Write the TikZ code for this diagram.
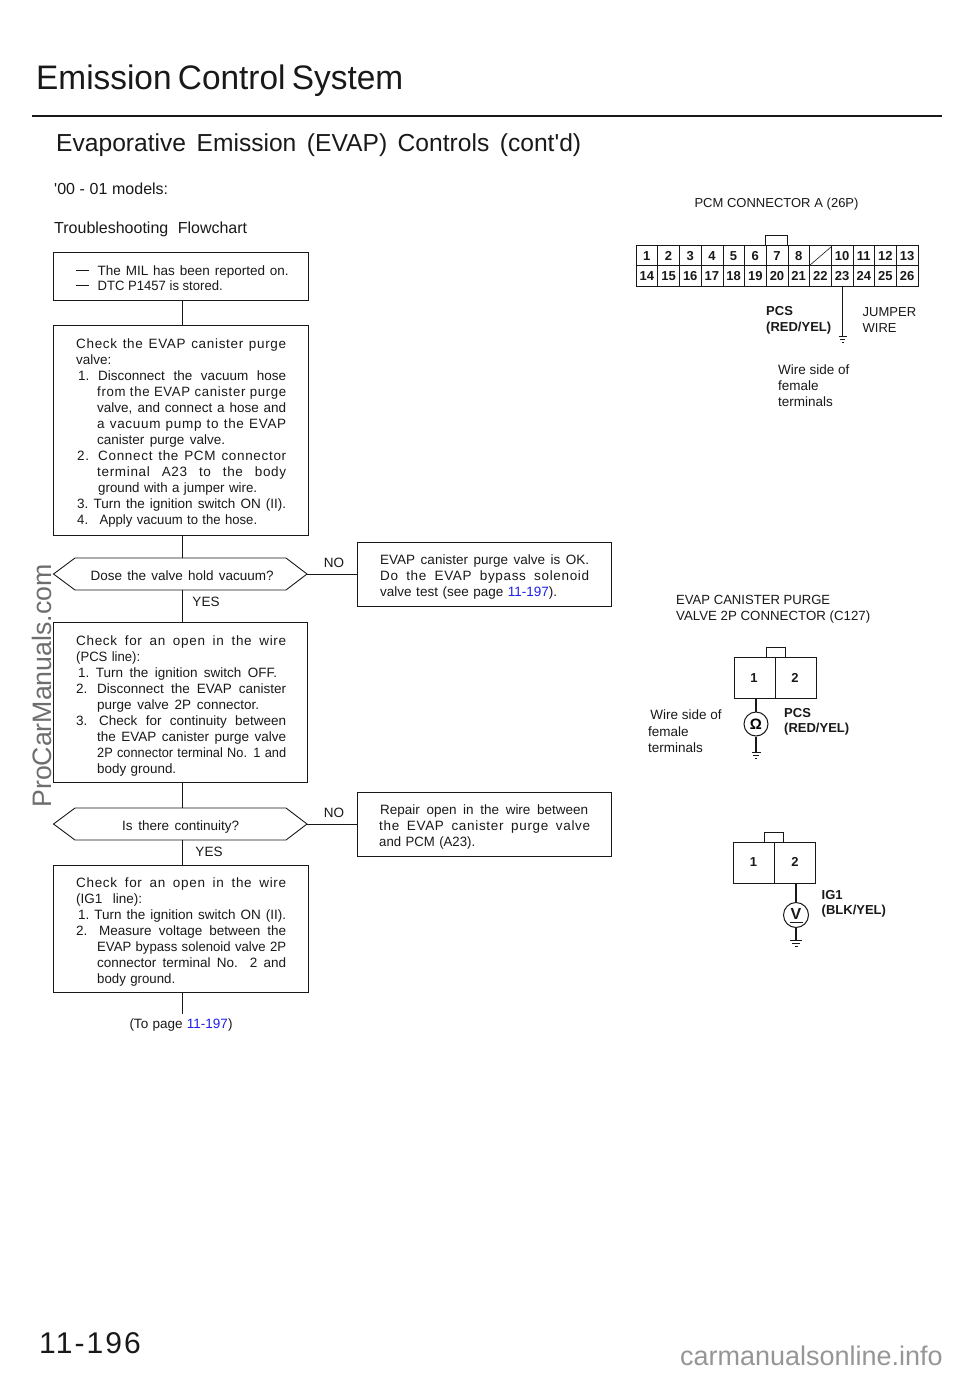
\documentclass[tikz,border=0pt]{standalone}
\usepackage{fontspec}
\usepackage{graphicx}
\setmainfont{Liberation Sans}
\usetikzlibrary{shapes.geometric,calc}
\definecolor{linkblue}{RGB}{30,30,235}
\definecolor{wm}{RGB}{110,110,110}
\definecolor{wmb}{RGB}{150,150,150}
\definecolor{ink}{RGB}{25,25,25}
\newlength\wtmp
\newlength\wgoal
% fit text to a width: stretch word gaps, or narrow the line if it is too long
\newcommand{\fit}[2]{\setlength\wgoal{#1}\settowidth\wtmp{#2}%
  \ifdim\wtmp>\wgoal\resizebox{\wgoal}{\height}{#2}%
  \else\makebox[\wgoal][s]{\spaceskip=0pt\xspaceskip=0pt #2}\fi}
% line: start offset, end offset, text
\newcommand{\Ln}[3]{\hspace*{#1pt}\fit{\dimexpr#2pt-#1pt\relax}{#3}\\}
\newcommand{\Ls}[3]{\hspace*{#1pt}\fit{\dimexpr#2pt-#1pt\relax}{\addfontfeatures{LetterSpace=5}#3}\\}
\newcommand{\nm}[2]{\makebox[#1pt][l]{#2.}}
\newcommand{\lnk}[1]{\textcolor{linkblue}{#1}}
\tikzset{
  flowbox/.style={draw=ink,line width=.9pt,rectangle,inner sep=0pt,outer sep=0pt,anchor=north west,text=ink},
  bodytext/.style={font=\fontsize{13.5}{16}\selectfont,align=left,text width=240pt,text=ink,inner sep=0pt,anchor=north west},
  decision/.style={draw=ink,line width=.9pt},
  conn/.style={draw=ink,line width=.9pt},
  lab/.style={font=\fontsize{13.5}{16}\selectfont,text=ink,inner sep=0pt},
  plabel/.style={font=\fontsize{13}{16}\selectfont\bfseries,text=ink,inner sep=0pt,align=left,anchor=west},
  pin/.style={font=\fontsize{13}{13}\selectfont\bfseries,text=ink,inner sep=0pt},
  wire/.style={draw=ink,line width=1.1pt},
  conbox/.style={draw=ink,line width=1pt},
  heading/.style={anchor=base west,inner sep=0pt,text=ink},
}
\newcommand{\gnd}[2]{%
  \draw[wire,line width=.8pt] ($(#1)+(-#2,0)$) -- ($(#1)+(#2,0)$);
  \draw[wire,line width=.8pt] ($(#1)+({-#2*.62},3)$) -- ($(#1)+({#2*.62},3)$);
  \draw[wire,line width=.8pt] ($(#1)+({-#2*.25},6)$) -- ($(#1)+({#2*.25},6)$);}
\begin{document}
\begin{tikzpicture}[x=1pt,y=-1pt]
\useasboundingbox (0,0) rectangle (960,1374);
\fill[white] (0,0) rectangle (960,1374);

% headings
\node[heading,font=\fontsize{34}{34}\selectfont] (title) at (36,89) {\resizebox{367pt}{\height}{\spaceskip=.19em Emission Control System}};
\coordinate (ruleL) at (32,116); \coordinate (ruleR) at (942,116);
\draw[ink,line width=2pt] (ruleL) -- (ruleR);
\node[heading,font=\fontsize{24.6}{25}\selectfont] (subtitle) at (56,151) {\fit{525pt}{Evaporative Emission (EVAP) Controls (cont\textquotesingle d)}};
\node[heading,font=\fontsize{16}{16}\selectfont] (models) at (54,194) {\fit{114pt}{\textquotesingle 00 - 01 models:}};
\node[heading,font=\fontsize{16}{16}\selectfont] (tsf) at (54,233) {\fit{193pt}{Troubleshooting Flowchart}};

% flow
\node[flowbox,minimum width=255pt,minimum height=48pt] (b1) at (53.5,252) {};
\draw[ink,line width=1.8pt] (76,270.5) coordinate (d1a) -- (89,270.5) coordinate (d1b);
\draw[ink,line width=1.8pt] (76,285.5) coordinate (d2a) -- (89,285.5) coordinate (d2b);
\node[lab,anchor=base west] (b1a) at (97.5,275) {\fit{191pt}{The MIL has been reported on.}};
\node[lab,anchor=base west] (b1b) at (97.5,290) {\fit{125pt}{DTC P1457 is stored.}};

\node[flowbox,minimum width=255pt,minimum height=210pt] (b2) at (53.5,325) {};
\node[bodytext] (b2t) at (76,339) {%
\Ls{0}{210}{Check the EVAP canister purge}
\Ln{0}{40}{valve:}
\Ln{2}{210}{\nm{20}{1}Disconnect the vacuum hose}
\Ls{21}{210}{from the EVAP canister purge}
\Ln{21}{210}{valve, and connect a hose and}
\Ls{21}{210}{a vacuum pump to the EVAP}
\Ln{21}{149}{canister purge valve.}
\Ls{1}{210}{\nm{21}{2}Connect the PCM connector}
\Ls{21}{210}{terminal A23 to the body}
\Ln{22}{181}{ground with a jumper wire.}
\Ln{1}{210}{3.\ Turn the ignition switch ON (II).}
\Ln{1}{181}{\nm{23}{4}Apply vacuum to the hose.}};

\draw[decision] (53.5,574) coordinate (q1L) -- (75,558) -- (286,558) -- (307,574) coordinate (q1R) -- (286,590) -- (75,590) -- cycle;
\node[lab,anchor=base west] (q1) at (90.5,580) {\fit{183pt}{Dose the valve hold vacuum?}};
\node[lab] (no1) at (334,563) {NO};
\node[lab] (yes1) at (206,602) {YES};

\node[flowbox,minimum width=254pt,minimum height=64pt] (b3) at (357.5,542) {};
\node[bodytext] (b3t) at (380,555) {%
\Ln{0}{209}{EVAP canister purge valve is OK.}
\Ls{0}{209}{Do the EVAP bypass solenoid}
\Ln{0}{177}{valve test (see page \lnk{11-197}).}};

\node[flowbox,minimum width=254pt,minimum height=160pt] (b4) at (53.5,622) {};
\node[bodytext] (b4t) at (76,636) {%
\Ls{0}{210}{Check for an open in the wire}
\Ln{0}{64}{(PCS line):}
\Ln{2}{201}{1.\ Turn the ignition switch OFF.}
\Ln{0}{210}{\nm{21}{2}Disconnect the EVAP canister}
\Ln{21}{183}{purge valve 2P connector.}
\Ln{0}{210}{\nm{23}{3}Check for continuity between}
\Ln{21}{210}{the EVAP canister purge valve}
\Ln{21}{210}{2P connector terminal No. 1 and}
\Ln{21}{100}{body ground.}};

\draw[decision] (53.5,824) coordinate (q2L) -- (75,808) -- (286,808) -- (307,824) coordinate (q2R) -- (286,840) -- (75,840) -- cycle;
\node[lab,anchor=base west] (q2) at (122,830) {\fit{117pt}{Is there continuity?}};
\node[lab] (no2) at (334,813) {NO};
\node[lab] (yes2) at (209,852) {YES};

\node[flowbox,minimum width=254pt,minimum height=64pt] (b5) at (357,792) {};
\node[bodytext] (b5t) at (379,805) {%
\Ln{1}{209}{Repair open in the wire between}
\Ls{0}{211}{the EVAP canister purge valve}
\Ln{0}{96}{and PCM (A23).}};

\node[flowbox,minimum width=255pt,minimum height=127pt] (b6) at (53.5,865) {};
\node[bodytext] (b6t) at (76,878) {%
\Ls{0}{210}{Check for an open in the wire}
\Ln{0}{66}{(IG1 line):}
\Ln{2}{210}{1.\ Turn the ignition switch ON (II).}
\Ln{0}{210}{\nm{23}{2}Measure voltage between the}
\Ln{21}{210}{EVAP bypass solenoid valve 2P}
\Ln{21}{210}{connector terminal No. 2 and}
\Ln{21}{99}{body ground.}};

\coordinate (endc) at (182,1014);
\node[lab,anchor=center] (topage) at (181,1025) {\fit{103pt}{(To page \lnk{11-197})}};

\draw[conn] (b1.south -| endc) -- (b2.north -| endc);
\draw[conn] (b2.south -| endc) -- (182,558);
\draw[conn] (182,590) -- (b4.north -| endc);
\draw[conn] (b4.south -| endc) -- (182,808);
\draw[conn] (182,840) -- (b6.north -| endc);
\draw[conn] (b6.south -| endc) -- (endc);
\draw[conn] (q1R) -- (b3.west |- q1R);
\draw[conn] (q2R) -- (b5.west |- q2R);

% PCM connector
\node[lab,anchor=center,font=\fontsize{13}{14}\selectfont] (pcmtitle) at (776.5,204) {\fit{164pt}{PCM CONNECTOR A (26P)}};
\begin{scope}[conbox]
\draw (636,245) rectangle (918,286);
\draw (636,265.5) -- (918,265.5);
\draw (765,245) -- (765,235.5) -- (787.5,235.5) -- (787.5,245);
\foreach \i in {1,...,12} \draw[line width=.5pt] ({636+\i*21.69},245) -- ({636+\i*21.69},286);
\draw[line width=.6pt] (809.5,265.5) -- (831,247);
\end{scope}
\foreach \i/\t in {0/1,1/2,2/3,3/4,4/5,5/6,6/7,7/8,9/10,10/11,11/12,12/13}
  \node[pin] (ta\i) at ({636+(\i+.5)*21.69},256) {\t};
\foreach \i/\t in {0/14,1/15,2/16,3/17,4/18,5/19,6/20,7/21,8/22,9/23,10/24,11/25,12/26}
  \node[pin] (tb\i) at ({636+(\i+.5)*21.69},276) {\t};
\coordinate (jw) at (842.5,286); \coordinate (jg) at (842.5,336);
\draw[wire] (jw) -- (jg);
\gnd{jg}{4}
\node[plabel] (pcs1) at (766,311) {PCS};
\node[plabel] (pcs1b) at (766,328) {(RED/YEL)};
\node[lab,anchor=north west,align=left,font=\fontsize{13}{16}\selectfont] (jump) at (862.5,307) {JUMPER\\WIRE};
\node[lab,anchor=north west,align=left,font=\fontsize{13.5}{16}\selectfont] (ws1) at (778,365) {Wire side of\\female\\terminals};

% purge valve connector
\node[lab,anchor=north west,align=left,font=\fontsize{13.3}{16}\selectfont] (evt) at (676,595) {\fit{154pt}{EVAP CANISTER PURGE}\\\fit{194pt}{VALVE 2P CONNECTOR (C127)}};
\draw[conbox] (734,657.5) rectangle (816,698);
\draw[conbox,line width=.8pt] (775,657.5) -- (775,698);
\draw[conbox,line width=.6pt] (766,657.5) -- (766,647.5) -- (785,647.5) -- (785,657.5);
\node[pin] (p1) at (754,678) {1};
\node[pin] (p2) at (795,678) {2};
\node[draw=ink,line width=1pt,circle,minimum size=24pt,inner sep=0pt,font=\fontsize{15}{15}\selectfont\bfseries] (ohm) at (756,724) {Ω};
\coordinate (g1) at (756,752);
\draw[wire] (756,698) -- (ohm); \draw[wire] (ohm) -- (g1);
\gnd{g1}{4.5}
\node[plabel] (pcs2) at (784,713) {PCS};
\node[plabel] (pcs2b) at (784,729) {(RED/YEL)};
\node[lab,anchor=north west,align=left,font=\fontsize{13.5}{16.5}\selectfont] (ws2) at (648,710) {\,Wire side of\\female\\terminals};

% bypass connector
\draw[conbox] (733,842) rectangle (815,883);
\draw[conbox,line width=.8pt] (774,842) -- (774,883);
\draw[conbox,line width=.6pt] (764,842) -- (764,832) -- (783,832) -- (783,842);
\node[pin] (p3) at (753.5,862) {1};
\node[pin] (p4) at (795,862) {2};
\node[draw=ink,line width=1pt,circle,minimum size=25pt,inner sep=0pt] (volt) at (796,915) {};
\node[inner sep=0pt,font=\fontsize{16}{16}\selectfont\bfseries,text=ink] (vlab) at (796,913.5) {V};
\draw[ink,line width=.9pt] (789.5,922) -- (802.5,922);
\coordinate (g2) at (796,940);
\draw[wire] (796,883) -- (volt); \draw[wire] (volt) -- (g2);
\gnd{g2}{6}
\node[plabel] (ig1) at (821.5,895) {IG1};
\node[plabel] (ig1b) at (821.5,911) {(BLK/YEL)};

% footer
\node[heading,font=\fontsize{30}{30}\selectfont\addfontfeatures{LetterSpace=7}] (page) at (39,1353.5) {11-196};
\node[rotate=90,anchor=center,inner sep=0pt,font=\fontsize{26.7}{27}\selectfont,text=wm] (wm1) at (42,686) {ProCarManuals.com};
\node[anchor=base east,inner sep=0pt,font=\fontsize{27}{27}\selectfont,text=wmb] (wm2) at (943,1365) {carmanualsonline.info};
\end{tikzpicture}
\end{document}
